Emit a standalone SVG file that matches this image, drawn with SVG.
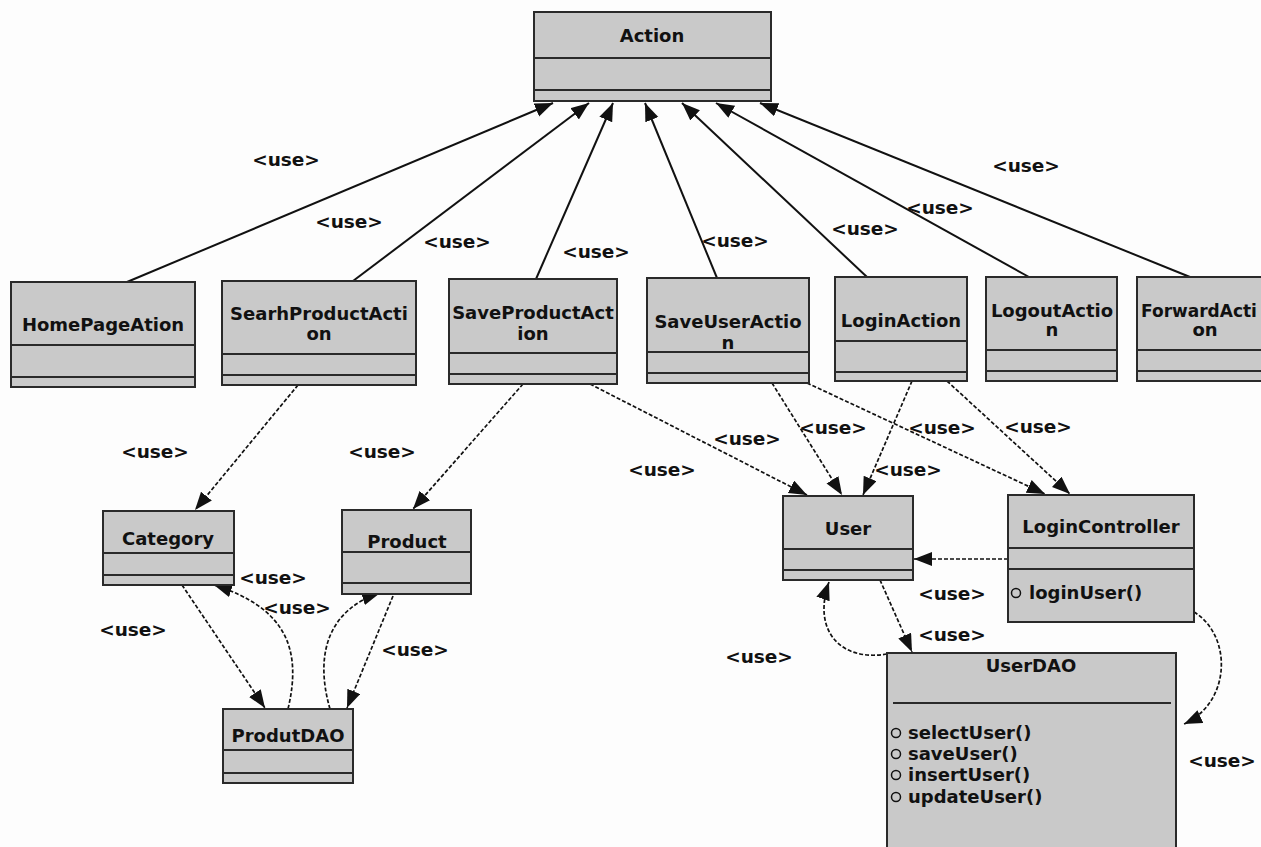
<svg xmlns="http://www.w3.org/2000/svg" width="1261" height="847" viewBox="0 0 1261 847">
<defs>
<marker id="arr" markerUnits="userSpaceOnUse" markerWidth="20" markerHeight="16" refX="18" refY="7" orient="auto">
<path d="M0,0 L18,7 L0,14 z" fill="#111"/>
</marker>
</defs>
<style>
.box{fill:#c9c9c9;stroke:#2a2a2a;stroke-width:2}
.div{stroke:#2a2a2a;stroke-width:2}
.t{font-family:"DejaVu Sans",Verdana,sans-serif;font-weight:bold;font-size:18px;fill:#111;text-anchor:middle}
.m{font-family:"DejaVu Sans",Verdana,sans-serif;font-weight:bold;font-size:18px;fill:#111}
.lbl{font-family:"DejaVu Sans",Verdana,sans-serif;font-weight:bold;font-size:18.5px;fill:#111;text-anchor:middle}
.solid{fill:none;stroke:#111;stroke-width:2;marker-end:url(#arr)}
.dash{fill:none;stroke:#111;stroke-width:1.7;stroke-dasharray:4 2;marker-end:url(#arr)}
.circ{fill:none;stroke:#111;stroke-width:1.5}
</style>
<rect width="1261" height="847" fill="#fdfdfd"/>

<g id="connectors">
<path class="solid" d="M127 282 L553 103"/>
<path class="solid" d="M353 281 L589 103"/>
<path class="solid" d="M536 279 L613 103"/>
<path class="solid" d="M717 278 L645 103"/>
<path class="solid" d="M867 277 L682 103"/>
<path class="solid" d="M1029 277 L716 103"/>
<path class="solid" d="M1190 277 L760 103"/>

<path class="dash" d="M298 385 L195 510"/>
<path class="dash" d="M523 384 L413 509"/>
<path class="dash" d="M590 384 L807 495"/>
<path class="dash" d="M772 383 L842 495"/>
<path class="dash" d="M912 381 L863 495"/>
<path class="dash" d="M807 383 L1045 494"/>
<path class="dash" d="M947 381 L1070 494"/>

<path class="dash" d="M1008 559 L914 559"/>
<path class="dash" d="M880 580 L912 652"/>
<path class="dash" d="M887 654 C840 662, 812 630, 829 582"/>
<path class="dash" d="M1194 612 C1232 635, 1232 702, 1184 724"/>

<path class="dash" d="M182 585 L265 708"/>
<path class="dash" d="M288 709 C302 650, 287 608, 214 585"/>
<path class="dash" d="M330 709 C313 650, 332 608, 380 593"/>
<path class="dash" d="M393 596 L347 708"/>
</g>

<g id="labels">
<text class="lbl" x="286" y="166">&lt;use&gt;</text>
<text class="lbl" x="349" y="228">&lt;use&gt;</text>
<text class="lbl" x="457" y="248">&lt;use&gt;</text>
<text class="lbl" x="596" y="258">&lt;use&gt;</text>
<text class="lbl" x="735" y="247">&lt;use&gt;</text>
<text class="lbl" x="865" y="235">&lt;use&gt;</text>
<text class="lbl" x="940" y="214">&lt;use&gt;</text>
<text class="lbl" x="1026" y="172">&lt;use&gt;</text>
<text class="lbl" x="155" y="458">&lt;use&gt;</text>
<text class="lbl" x="382" y="458">&lt;use&gt;</text>
<text class="lbl" x="747" y="445">&lt;use&gt;</text>
<text class="lbl" x="833" y="434">&lt;use&gt;</text>
<text class="lbl" x="942" y="434">&lt;use&gt;</text>
<text class="lbl" x="1038" y="433">&lt;use&gt;</text>
<text class="lbl" x="662" y="476">&lt;use&gt;</text>
<text class="lbl" x="908" y="476">&lt;use&gt;</text>
<text class="lbl" x="273" y="584">&lt;use&gt;</text>
<text class="lbl" x="297" y="614">&lt;use&gt;</text>
<text class="lbl" x="133" y="636">&lt;use&gt;</text>
<text class="lbl" x="415" y="656">&lt;use&gt;</text>
<text class="lbl" x="952" y="600">&lt;use&gt;</text>
<text class="lbl" x="952" y="641">&lt;use&gt;</text>
<text class="lbl" x="759" y="663">&lt;use&gt;</text>
<text class="lbl" x="1222" y="767">&lt;use&gt;</text>
</g>

<g id="Action">
<rect class="box" x="534" y="12" width="237" height="89"/>
<line class="div" x1="534" y1="58" x2="771" y2="58"/>
<line class="div" x1="534" y1="90" x2="771" y2="90"/>
<text class="t" x="652" y="42">Action</text>
</g>

<g id="HomePageAtion">
<rect class="box" x="11" y="282" width="184" height="105"/>
<line class="div" x1="11" y1="345" x2="195" y2="345"/>
<line class="div" x1="11" y1="377" x2="195" y2="377"/>
<text class="t" x="103" y="331">HomePageAtion</text>
</g>

<g id="SearhProductAction">
<rect class="box" x="222" y="281" width="194" height="104"/>
<line class="div" x1="222" y1="354" x2="416" y2="354"/>
<line class="div" x1="222" y1="375" x2="416" y2="375"/>
<text class="t" x="319" y="320">SearhProductActi</text>
<text class="t" x="319" y="340">on</text>
</g>

<g id="SaveProductAction">
<rect class="box" x="449" y="279" width="168" height="105"/>
<line class="div" x1="449" y1="353" x2="617" y2="353"/>
<line class="div" x1="449" y1="374" x2="617" y2="374"/>
<text class="t" x="533" y="319">SaveProductAct</text>
<text class="t" x="533" y="340">ion</text>
</g>

<g id="SaveUserAction">
<rect class="box" x="647" y="278" width="162" height="105"/>
<line class="div" x1="647" y1="352" x2="809" y2="352"/>
<line class="div" x1="647" y1="373" x2="809" y2="373"/>
<text class="t" x="728" y="328">SaveUserActio</text>
<text class="t" x="728" y="349">n</text>
</g>

<g id="LoginAction">
<rect class="box" x="835" y="277" width="132" height="104"/>
<line class="div" x1="835" y1="341" x2="967" y2="341"/>
<line class="div" x1="835" y1="372" x2="967" y2="372"/>
<text class="t" x="901" y="327">LoginAction</text>
</g>

<g id="LogoutAction">
<rect class="box" x="986" y="277" width="131" height="104"/>
<line class="div" x1="986" y1="350" x2="1117" y2="350"/>
<line class="div" x1="986" y1="371" x2="1117" y2="371"/>
<text class="t" x="1052" y="317">LogoutActio</text>
<text class="t" x="1052" y="336">n</text>
</g>

<g id="ForwardAction">
<rect class="box" x="1137" y="277" width="140" height="104"/>
<line class="div" x1="1137" y1="350" x2="1277" y2="350"/>
<line class="div" x1="1137" y1="371" x2="1277" y2="371"/>
<text class="t" x="1199" y="317" style="font-size:17px">ForwardActi</text>
<text class="t" x="1205" y="336">on</text>
</g>

<g id="Category">
<rect class="box" x="103" y="511" width="131" height="74"/>
<line class="div" x1="103" y1="553" x2="234" y2="553"/>
<line class="div" x1="103" y1="575" x2="234" y2="575"/>
<text class="t" x="168" y="545">Category</text>
</g>

<g id="Product">
<rect class="box" x="342" y="510" width="129" height="84"/>
<line class="div" x1="342" y1="552" x2="471" y2="552"/>
<line class="div" x1="342" y1="583" x2="471" y2="583"/>
<text class="t" x="407" y="548">Product</text>
</g>

<g id="ProdutDAO">
<rect class="box" x="223" y="709" width="130" height="74"/>
<line class="div" x1="223" y1="750" x2="353" y2="750"/>
<line class="div" x1="223" y1="773" x2="353" y2="773"/>
<text class="t" x="288" y="742">ProdutDAO</text>
</g>

<g id="User">
<rect class="box" x="783" y="496" width="130" height="84"/>
<line class="div" x1="783" y1="549" x2="913" y2="549"/>
<line class="div" x1="783" y1="570" x2="913" y2="570"/>
<text class="t" x="848" y="535">User</text>
</g>

<g id="LoginController">
<rect class="box" x="1008" y="495" width="186" height="127"/>
<line class="div" x1="1008" y1="548" x2="1194" y2="548"/>
<line class="div" x1="1008" y1="569" x2="1194" y2="569"/>
<text class="t" x="1101" y="533">LoginController</text>
<circle class="circ" cx="1016" cy="593" r="4.5"/>
<text class="m" x="1029" y="599">loginUser()</text>
</g>

<g id="UserDAO">
<rect class="box" x="887" y="653" width="289" height="210"/>
<line class="div" x1="893" y1="703" x2="1171" y2="703"/>
<text class="t" x="1031" y="672">UserDAO</text>
<circle class="circ" cx="896" cy="733" r="4.5"/>
<text class="m" x="908" y="739">selectUser()</text>
<circle class="circ" cx="896" cy="754" r="4.5"/>
<text class="m" x="908" y="760">saveUser()</text>
<circle class="circ" cx="896" cy="775" r="4.5"/>
<text class="m" x="908" y="781">insertUser()</text>
<circle class="circ" cx="896" cy="797" r="4.5"/>
<text class="m" x="908" y="803">updateUser()</text>
</g>
</svg>
